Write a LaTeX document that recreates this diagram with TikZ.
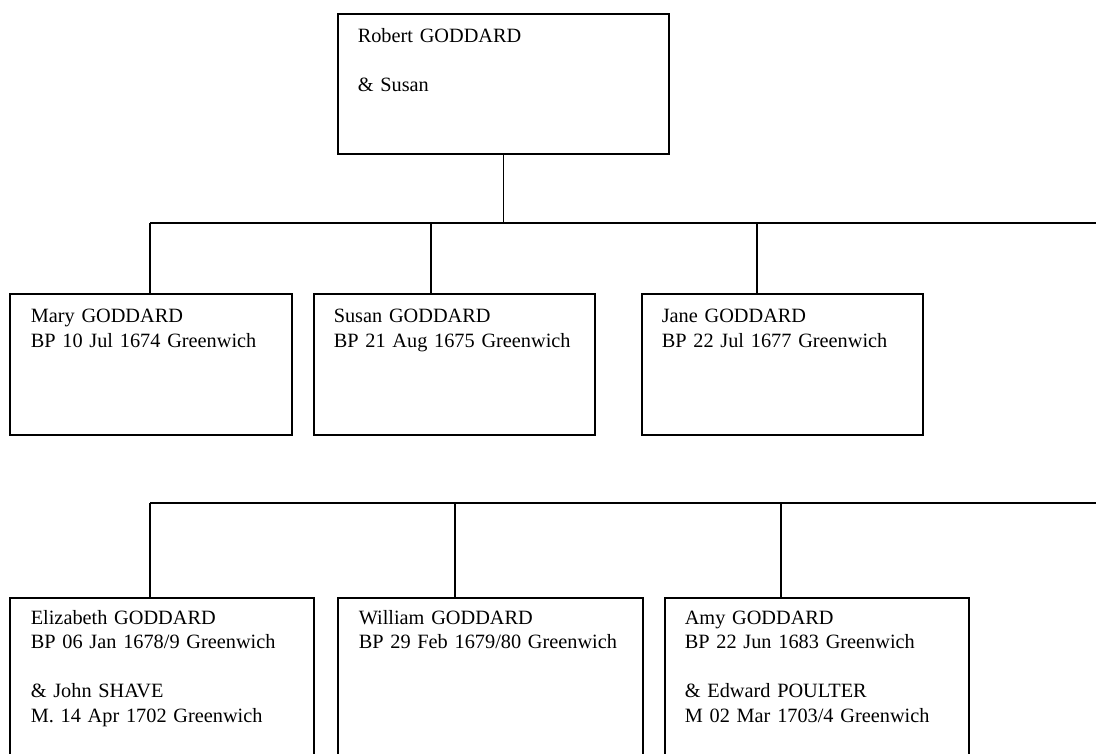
\documentclass[tikz,border=0pt]{standalone}
\usepackage{fontspec}
\setmainfont{Liberation Serif}
\begin{document}
\begin{tikzpicture}[x=1pt,y=-1pt,
  line width=1.6pt,
  person/.style={draw=black, line width=1.6pt, rectangle, inner sep=0pt, anchor=north west, minimum height=141pt},
  label/.style={anchor=base west, inner sep=0pt, align=left, text width=300pt,
    font=\fontsize{20.3}{24.5}\selectfont},
  link/.style={draw=black, line width=1.6pt}]
\useasboundingbox (0,0) rectangle (1096,754);
\clip (0,0) rectangle (1096,754);
% top couple
\node[person, minimum width=331pt, minimum height=140pt] (robert) at (337,13) {};
\node[label] (robertt) at (357,43) {Robert GODDARD\\[24.5pt]\& Susan};
% first row
\node[person, minimum width=282pt] (mary) at (9,293) {};
\node[label] (maryt) at (30,323) {Mary GODDARD\\BP 10 Jul 1674 Greenwich};
\node[person, minimum width=281pt] (susan) at (313,293) {};
\node[label] (susant) at (333,323) {Susan GODDARD\\BP 21 Aug 1675 Greenwich};
\node[person, minimum width=281pt] (jane) at (641,293) {};
\node[label] (janet) at (661,323) {Jane GODDARD\\BP 22 Jul 1677 Greenwich};
% second row
\node[person, minimum width=304pt, minimum height=200pt] (eliz) at (9,597) {};
\node[label] (elizt) at (30,624) {Elizabeth GODDARD\\BP 06 Jan 1678/9 Greenwich\\[24.5pt]\& John SHAVE\\M. 14 Apr 1702 Greenwich};
\node[person, minimum width=305pt, minimum height=200pt] (will) at (337,597) {};
\node[label] (willt) at (358,624) {William GODDARD\\BP 29 Feb 1679/80 Greenwich};
\node[person, minimum width=304pt, minimum height=200pt] (amy) at (664,597) {};
\node[label] (amyt) at (684,624) {Amy GODDARD\\BP 22 Jun 1683 Greenwich\\[24.5pt]\& Edward POULTER\\M 02 Mar 1703/4 Greenwich};
% connectors, first bus
\coordinate (b1l) at (150,223);
\coordinate (b1r) at (1100,223);
\coordinate (j1s) at (431,223);
\coordinate (j1j) at (757,223);
\draw[link] (robert.south) -- (robert.south |- b1l);
\draw[link] (b1l) -- (b1r);
\draw[link] (b1l) -- (b1l |- mary.north);
\draw[link] (j1s) -- (j1s |- susan.north);
\draw[link] (j1j) -- (j1j |- jane.north);
% second bus
\coordinate (b2l) at (150,503);
\coordinate (b2r) at (1100,503);
\coordinate (j2w) at (455,503);
\coordinate (j2a) at (781,503);
\draw[link] (b2l) -- (b2r);
\draw[link] (b2l) -- (b2l |- eliz.north);
\draw[link] (j2w) -- (j2w |- will.north);
\draw[link] (j2a) -- (j2a |- amy.north);
\end{tikzpicture}
\end{document}
